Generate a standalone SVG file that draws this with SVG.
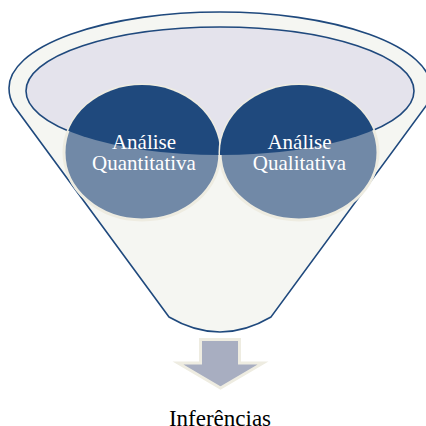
<svg xmlns="http://www.w3.org/2000/svg" width="426" height="426" viewBox="0 0 426 426">
<defs>
<style>
.txt{font-family:"Liberation Serif","Times New Roman",serif;text-anchor:middle}
.lbl{fill:#FFFFFF;font-size:21px}
.circ{stroke:#EEECE1;stroke-width:3}
</style>
<clipPath id="innerClip"><ellipse cx="220" cy="91" rx="194" ry="64"/></clipPath>
</defs>
<rect width="426" height="426" fill="#FFFFFF"/>
<g id="funnel">
<path d="M169,317 L14,106 Q9,98 9,88 A211 76 0 0 1 431,88 Q431,98 426,106 L271,317 Q220,347 169,317 Z" fill="#F5F6F2" stroke="#1F497D" stroke-width="1.6"/>
<ellipse cx="220" cy="91" rx="194" ry="64" fill="#E4E3EC" stroke="#1F497D" stroke-width="1.6"/>
</g>
<g id="node-quantitativa">
<ellipse class="circ" cx="142" cy="152.5" rx="78" ry="67.5" fill="#7189A7"/>
<ellipse cx="142" cy="152.5" rx="78" ry="67.5" fill="#1F497D" clip-path="url(#innerClip)"/>
<text class="txt lbl" x="144" y="149">Análise</text>
<text class="txt lbl" x="144" y="170">Quantitativa</text>
</g>
<g id="node-qualitativa">
<ellipse class="circ" cx="299" cy="152.5" rx="79" ry="67.5" fill="#7189A7"/>
<ellipse cx="299" cy="152.5" rx="79" ry="67.5" fill="#1F497D" clip-path="url(#innerClip)"/>
<text class="txt lbl" x="299.5" y="149">Análise</text>
<text class="txt lbl" x="299.5" y="170">Qualitativa</text>
</g>
<g id="connectors">
<path d="M200.5,339.5 L239.5,339.5 L239.5,363 L263,363 L220.5,388 L178,363 L200.5,363 Z" fill="#A8AEC1" stroke="#EEECE1" stroke-width="3" stroke-linejoin="miter"/>
</g>
<g id="node-inferencias">
<text class="txt" x="220" y="426" font-size="23" fill="#000000">Inferências</text>
</g>
</svg>
